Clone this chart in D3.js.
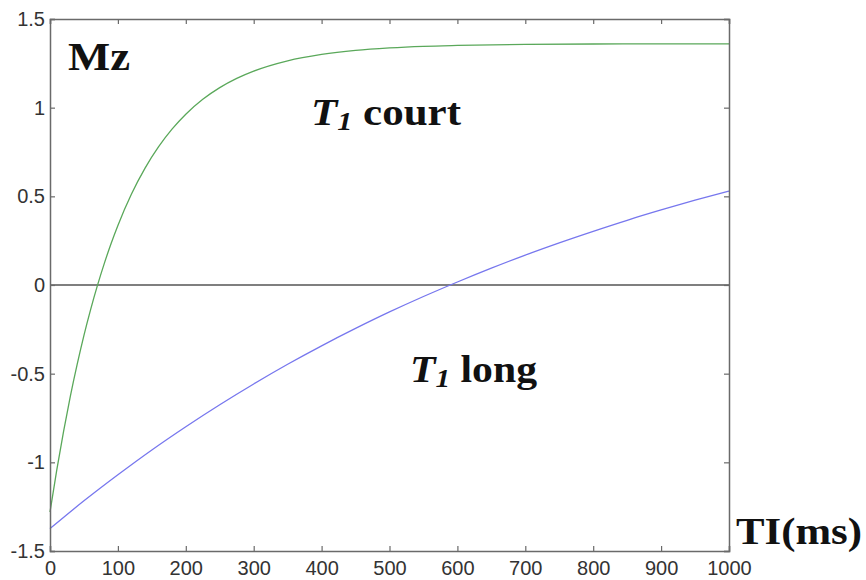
<!DOCTYPE html>
<html><head><meta charset="utf-8">
<script src="https://cdn.jsdelivr.net/npm/d3@7"></script>
<style>body{margin:0;background:#fff}svg{display:block}</style>
</head><body>
<svg id="chart" width="866" height="580"></svg>
<script>
// Data
const tShort = [0,10,20,30,40,50,60,70,80,90,100,120,140,160,180,200,225,250,275,300,350,400,450,500,550,600,700,800,900,1000];
const mzShort = [-1.28,-1.042,-0.825,-0.627,-0.448,-0.284,-0.136,-0.001,0.122,0.234,0.336,0.513,0.659,0.780,0.880,0.963,1.047,1.113,1.165,1.206,1.264,1.300,1.323,1.337,1.346,1.351,1.357,1.359,1.36,1.36];
const tLong = [0,50,100,150,200,250,300,350,400,450,500,550,600,650,700,750,800,850,900,950,1000];
const mzLong = [-1.374,-1.217,-1.070,-0.930,-0.799,-0.675,-0.558,-0.447,-0.343,-0.245,-0.152,-0.065,0.017,0.095,0.169,0.238,0.303,0.365,0.423,0.478,0.530];
const xTicks = [0,100,200,300,400,500,600,700,800,900,1000];
const yTicks = [-1.5,-1,-0.5,0,0.5,1,1.5];
const yTickLabels = ["-1.5","-1","-0.5","0","0.5","1","1.5"];

const svg = d3.select("#chart");
const L = 50, R = 729, T = 19, B = 551;
const x = d3.scaleLinear().domain([0,1000]).range([L,R]);
const y = d3.scaleLinear().domain([-1.5,1.5]).range([B,T]);
const axisColor = "#6a6a6a";
const tickLen = 5;

// zero line
svg.append("line").attr("x1",L).attr("x2",R).attr("y1",y(0)).attr("y2",y(0))
  .attr("stroke","#555").attr("stroke-width",1.3);

// curves
const line = d3.line().x(d=>x(d[0])).y(d=>y(d[1])).curve(d3.curveMonotoneX);
svg.append("path").datum(tShort.map((t,i)=>[t,mzShort[i]]))
  .attr("d",line).attr("fill","none").attr("stroke","#5aa85a").attr("stroke-width",1.3);
svg.append("path").datum(tLong.map((t,i)=>[t,mzLong[i]]))
  .attr("d",line).attr("fill","none").attr("stroke","#7777ee").attr("stroke-width",1.3);

// axes (ticks inward on all four sides)
const fontAxis = "'Liberation Sans', Arial, sans-serif";
const gBottom = svg.append("g").attr("transform",`translate(0,${B})`)
  .call(d3.axisBottom(x).tickValues(xTicks).tickSize(-tickLen).tickPadding(10).tickFormat(d3.format("d")));
const gTop = svg.append("g").attr("transform",`translate(0,${T})`)
  .call(d3.axisTop(x).tickValues(xTicks).tickSize(-tickLen).tickFormat(""));
const gLeft = svg.append("g").attr("transform",`translate(${L},0)`)
  .call(d3.axisLeft(y).tickValues(yTicks).tickSize(-tickLen).tickPadding(5).tickFormat((d,i)=>yTickLabels[i]));
const gRight = svg.append("g").attr("transform",`translate(${R},0)`)
  .call(d3.axisRight(y).tickValues(yTicks).tickSize(-tickLen).tickFormat(""));
[gBottom,gTop,gLeft,gRight].forEach(g=>{
  g.select(".domain").attr("stroke",axisColor).attr("stroke-width",1.5);
  g.selectAll(".tick line").attr("stroke",axisColor).attr("stroke-width",1.2);
  g.selectAll("text").attr("font-family",fontAxis).attr("font-size",20).attr("fill","#333");
});

// labels
const serif = "'Liberation Serif', 'Times New Roman', serif";
svg.append("text").attr("x",68).attr("y",70).attr("font-family",serif)
  .attr("font-weight","bold").attr("font-size",40).attr("fill","#111")
  .attr("textLength",62).attr("lengthAdjust","spacingAndGlyphs").text("Mz");

function t1Label(xp, yp, word, len){
  const t = svg.append("text").attr("x",xp).attr("y",yp).attr("font-family",serif)
    .attr("font-weight","bold").attr("font-size",37).attr("fill","#111")
    .attr("textLength",len).attr("lengthAdjust","spacingAndGlyphs");
  t.append("tspan").attr("font-style","italic").text("T");
  t.append("tspan").attr("font-style","italic").attr("font-size",26).attr("dy",5).text("1");
  t.append("tspan").attr("dy",-5).text(" " + word);
}
t1Label(311,125,"court",150);
t1Label(410,382,"long",127);

svg.append("text").attr("x",736).attr("y",544).attr("font-family",serif)
  .attr("font-weight","bold").attr("font-size",37).attr("fill","#111")
  .attr("textLength",126).attr("lengthAdjust","spacingAndGlyphs").text("TI(ms)");
</script>
</body></html>
